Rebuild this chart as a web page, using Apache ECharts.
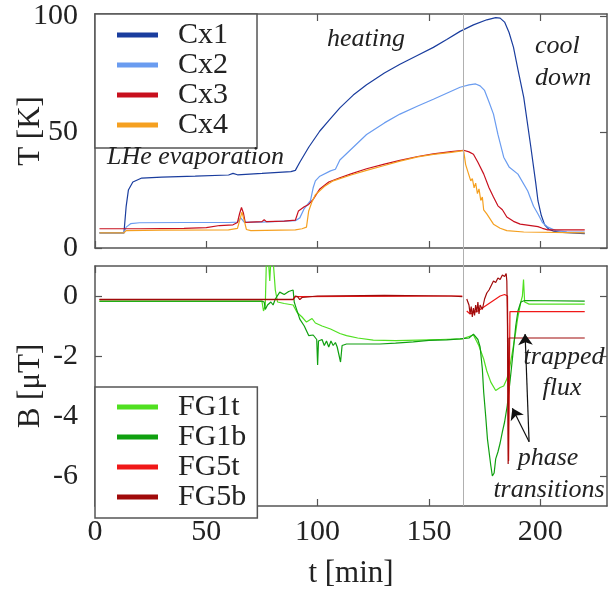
<!DOCTYPE html>
<html>
<head>
<meta charset="utf-8">
<script src="https://cdn.jsdelivr.net/npm/echarts@6/dist/echarts.min.js"></script>
<style>
  html, body { margin: 0; padding: 0; background: #fff; }
  #chart { width: 616px; height: 592px; }
</style>
</head>
<body>
<div id="chart"></div>
<script>
// temperatures [t (min), T (K)]
const cx1 = [[2,6.5],[13,6.5],[14,18],[15,25],[17,28.5],[21,30.2],[30,30.6],[45,31],[60,31.5],[62,32.2],[64,31.6],[75,32.2],[88,33],[90,33.5],[92,37],[96,43.5],[101,50.5],[105,55],[110,60.5],[116,66],[122,70.5],[130,75.5],[137,79.3],[145,83.2],[152,86.6],[158,90],[164,93.5],[170,96.3],[176,98.5],[180,99.4],[182,99.2],[184,97.5],[186,93],[188,86.6],[190,77],[192.6,65],[195.8,43.5],[198,28],[199,20.3],[200.5,14],[202,10],[204,8],[206,7.3],[210,6.7],[220,6.2]];
const cx2 = [[2,6.5],[13,6.5],[14,9],[16,10.5],[20,10.9],[40,11],[60,11],[64,11.2],[65.5,13],[67,11.2],[75,11.2],[90,11.8],[92,13],[94,17],[96.8,20.4],[98,26],[99,29],[101,31],[105.8,33.3],[108,34],[110,38],[116,43.5],[122,49],[130,54],[137,57.8],[145,61.3],[152,64.2],[158,66.8],[164,69.4],[168,70.4],[171,70.8],[173,70],[175,68],[177,63],[179,57.8],[181,49],[183.6,39.2],[186,35],[190,31.9],[194.4,24.6],[197,18],[199,14.7],[201,11],[203.4,9],[207,7.5],[212,7],[220,6.9]];
const cx3 = [[2,8.3],[20,8.3],[40,8.5],[50,8.8],[56,9.7],[62,10],[64,11],[65,15],[65.8,17.5],[66.7,15],[67.5,11],[70,11.2],[75,11.4],[76,12.2],[77,11.4],[85,11.6],[90,12],[91.4,16],[94,17.8],[96,18.8],[98,21],[101,25.5],[105,28.5],[110,30.3],[115,32],[122,34.2],[130,36.2],[137,37.8],[145,39.5],[152,40.6],[160,41.6],[165.6,42.2],[168,41.5],[170,40.5],[172,37],[174.6,32],[177,26],[179,22],[181,18.2],[183,16.5],[185,13.4],[188,11.5],[191,10.3],[195,9.8],[199,9.2],[201,8.5],[203.4,7.8],[220,7.8]];
const cx4 = [[2,6.5],[13,6.5],[14,7.5],[30,7.7],[60,7.8],[64,8.5],[65.3,13],[66,15.5],[67,12],[68,8],[70,7.5],[90,7.8],[93,8.3],[95,9],[96,16],[97.5,20],[99,23],[103,26.5],[107,29],[115,31.5],[122,33.5],[130,35.6],[137,37.5],[145,39.3],[152,40.4],[160,41.3],[165.6,42],[166.5,36],[168.8,29],[169.5,30],[170.3,26],[171,28],[171.8,23.5],[172.5,25.5],[173.3,20.5],[174,22],[174.6,16.5],[176,14.7],[179,10.3],[182,8.5],[185,7.5],[192.6,6.9],[220,6.5]];

// magnetic field [t (min), B (uT)]
const fg1t = [[2,-0.18],[40,-0.18],[75,-0.18],[75.7,-0.5],[76.5,-0.3],[77,1.2],[78,1.1],[78.5,0.5],[79,1.2],[80,1.2],[81,0.2],[82,-0.2],[85,-0.25],[89,-0.3],[90.8,-0.55],[93,-0.7],[95,-0.87],[97.5,-0.75],[99,-0.9],[102,-1.0],[105.8,-1.1],[110,-1.25],[113,-1.32],[118,-1.4],[125,-1.47],[135,-1.49],[145,-1.47],[155,-1.45],[165,-1.43],[168,-1.35],[170,-1.3],[172.4,-1.65],[174.6,-2.1],[176,-2.5],[177.8,-2.87],[180,-3.15],[182,-3.05],[183.6,-3.0],[185,-2.77],[186,-2.5],[187.5,-1.87],[189,-1.2],[189.8,-0.77],[191.3,-0.2],[192,0],[192.5,0.55],[193,-0.2],[195,-0.27],[220,-0.27]];
const fg1b = [[2,-0.17],[75,-0.17],[76,-0.2],[76.5,-0.45],[77.5,-0.3],[79,-0.2],[80,-0.3],[81,-0.1],[83,0.13],[85,0.05],[87,0.15],[89,0.2],[89.5,-0.2],[90,-0.32],[92,-0.77],[94,-1.0],[96,-1.32],[98,-1.3],[99.6,-1.45],[100,-2.3],[100.4,-1.5],[102,-1.45],[103,-1.65],[104,-1.5],[105,-1.7],[106,-1.5],[107,-1.65],[108,-1.55],[108.8,-1.7],[110.3,-2.2],[111,-1.65],[113,-1.6],[120,-1.6],[128,-1.6],[135,-1.57],[143,-1.53],[150,-1.48],[158,-1.46],[164,-1.43],[168,-1.4],[170,-1.27],[172,-1.45],[173,-1.7],[174,-2.43],[174.6,-3.2],[175.5,-4.0],[176.3,-4.77],[177.8,-5.65],[178.5,-6.0],[179.3,-5.9],[180,-5.43],[181,-5.2],[182,-4.9],[183,-4.53],[184,-4.2],[185.2,-3.65],[186.5,-2.8],[187.5,-2.1],[189,-1.0],[190,-0.5],[191.3,-0.2],[193,-0.15],[220,-0.17]];
const fg5t = [[2,-0.12],[89,-0.12],[90,-0.02],[165,0],[165.5,null],[167,-0.5],[168.5,-0.6],[170,-0.55],[172,-0.5],[174,-0.4],[176,-0.3],[178,-0.2],[180,-0.1],[182,0],[184,0.05],[185.3,0.0],[185.8,-5.5],[186.4,-0.52],[220,-0.52]];
const fg5b = [[2,-0.11],[89,-0.11],[90,0],[91,-0.02],[92,-0.12],[93,-0.05],[100,0],[130,0.02],[160,0],[165,-0.02],[165.5,null],[167,-0.1],[168,-0.3],[168.5,-0.6],[169,-0.35],[169.5,-0.7],[170,-0.4],[170.5,-0.65],[171,-0.3],[171.5,-0.55],[172,-0.2],[172.5,-0.6],[173,-0.3],[174,-0.45],[175,-0.1],[176,0.1],[177,0.2],[178,0.35],[179,0.5],[180,0.45],[181,0.6],[182,0.55],[183,0.7],[184,0.65],[184.7,0.75],[185,0.5],[185.3,-1],[185.6,-5.6],[186,-1.4],[220,-1.4]];

const tTicks = [0, 50, 100, 150, 200];
const tempTicks = [0, 50, 100];
const fieldTicks = [0, -2, -4, -6];
const switchTime = 165.6;
// arrows: [from, to] in (t, B)
const arrows = [
  [[195, -4.86], [187.5, -3.74]],
  [[195, -4.86], [193.2, -1.27]]
];

const serif = '"Liberation Serif", "Times New Roman", serif';
const frame = '#555';

const chart = echarts.init(document.getElementById('chart'));

function xAx(grid, pos, withLabels) {
  return {
    type: 'value', gridIndex: grid, position: pos, min: 0, max: 230,
    axisLine: { show: true, onZero: false, lineStyle: { color: frame, width: 1.5 } },
    axisTick: { show: true, inside: true, length: 7, customValues: tTicks, lineStyle: { color: frame, width: 1.2 } },
    axisLabel: { show: withLabels, customValues: tTicks, margin: 11, fontFamily: serif, fontSize: 30, color: '#222' },
    splitLine: { show: false }
  };
}
function yAx(grid, pos, min, max, ticks, withLabels) {
  return {
    type: 'value', gridIndex: grid, position: pos, min: min, max: max,
    axisLine: { show: true, onZero: false, lineStyle: { color: frame, width: 1.5 } },
    axisTick: { show: true, inside: true, length: 7, customValues: ticks, lineStyle: { color: frame, width: 1.2 } },
    axisLabel: { show: withLabels, customValues: ticks, margin: 17, fontFamily: serif, fontSize: 30, color: '#222' },
    splitLine: { show: false }
  };
}

function line(name, data, color, x, y, z) {
  return {
    name: name, type: 'line', data: data, xAxisIndex: x, yAxisIndex: y,
    symbol: 'none', showSymbol: false, color: color, z: z || 2,
    lineStyle: { color: color, width: 1.2 }, animation: false
  };
}

const nameFont = { fontFamily: serif, fontSize: 31, color: '#222' };

const xAxes = [
  xAx(0, 'bottom', false),
  xAx(0, 'top', false),
  Object.assign(xAx(1, 'bottom', true), {
    name: 't [min]', nameLocation: 'middle', nameGap: 52, nameMoveOverlap: false,
    nameTextStyle: nameFont
  }),
  xAx(1, 'top', false),
  { type: 'value', gridIndex: 2, min: 0, max: 230, show: false }
];
const yAxes = [
  Object.assign(yAx(0, 'left', 0, 101, tempTicks, true), {
    name: 'T [K]', nameLocation: 'middle', nameGap: 49, nameMoveOverlap: false,
    nameTextStyle: nameFont
  }),
  yAx(0, 'right', 0, 101, tempTicks, false),
  Object.assign(yAx(1, 'left', -7, 1, fieldTicks, true), {
    name: 'B [μT]', nameLocation: 'middle', nameGap: 49, nameMoveOverlap: false,
    nameTextStyle: nameFont
  }),
  yAx(1, 'right', -7, 1, fieldTicks, false),
  { type: 'value', gridIndex: 2, min: 0, max: 1, show: false }
];

const legendBase = {
  orient: 'vertical', left: 95, itemGap: 0, icon: 'rect',
  itemWidth: 41, itemHeight: 5, selectedMode: false,
  backgroundColor: '#fff', borderColor: frame, borderWidth: 1.5, borderRadius: 0,
  textStyle: { fontFamily: serif, fontSize: 30, color: '#222', padding: [0, 0, 0, 15] }
};

const note = (text, x, y, align) => ({
  type: 'text', x: x, y: y, z: 100,
  style: { text: text, font: 'italic 26px ' + serif, fill: '#222', textAlign: align || 'left', textVerticalAlign: 'middle' }
});

chart.setOption({
  animation: false,
  grid: [
    { left: 95, right: 9, top: 14, height: 234, outerBoundsMode: 'none' },
    { left: 95, right: 9, top: 266, height: 240, outerBoundsMode: 'none' },
    { left: 95, right: 9, top: 14, bottom: 86, outerBoundsMode: 'none' }
  ],
  xAxis: xAxes,
  yAxis: yAxes,
  legend: [
    Object.assign({}, legendBase, {
      top: 14, padding: [6, 29, 8, 22],
      textStyle: Object.assign({}, legendBase.textStyle, { lineHeight: 26 }),
      data: ['Cx1', 'Cx2', 'Cx3', 'Cx4']
    }),
    Object.assign({}, legendBase, {
      top: 387, padding: [5, 11, 6, 22],
      textStyle: Object.assign({}, legendBase.textStyle, { lineHeight: 26.5 }),
      data: ['FG1t', 'FG1b', 'FG5t', 'FG5b']
    })
  ],
  series: [
    {
      type: 'line', data: [], xAxisIndex: 4, yAxisIndex: 4, z: 1, silent: true,
      markLine: {
        symbol: 'none', silent: true, animation: false, label: { show: false },
        lineStyle: { color: '#b0b0b0', width: 1, type: 'solid' },
        data: [{ xAxis: switchTime }]
      }
    },
    line('Cx1', cx1, '#1a3d9e', 0, 0),
    line('Cx2', cx2, '#6a9cf0', 0, 0),
    line('Cx3', cx3, '#c8101e', 0, 0),
    line('Cx4', cx4, '#f5a020', 0, 0),
    line('FG1t', fg1t, '#50e020', 2, 2),
    line('FG1b', fg1b, '#10a010', 2, 2),
    line('FG5t', fg5t, '#f01818', 2, 2),
    Object.assign(line('FG5b', fg5b, '#a00a0a', 2, 2), {
      markLine: {
        silent: true, animation: false, symbol: ['none', 'arrow'], symbolSize: 11,
        label: { show: false },
        lineStyle: { color: '#111', width: 1.2, type: 'solid' },
        data: arrows.map(a => [{ coord: a[0] }, { coord: a[1] }])
      }
    })
  ],
  graphic: [
    note('LHe evaporation', 107, 157),
    note('heating', 327, 39),
    note('cool', 535, 46),
    note('down', 535, 78),
    note('trapped', 564, 357, 'center'),
    note('flux', 562, 388, 'center'),
    note('phase', 548, 458, 'center'),
    note('transitions', 549, 490, 'center')
  ]
});
</script>
</body>
</html>
